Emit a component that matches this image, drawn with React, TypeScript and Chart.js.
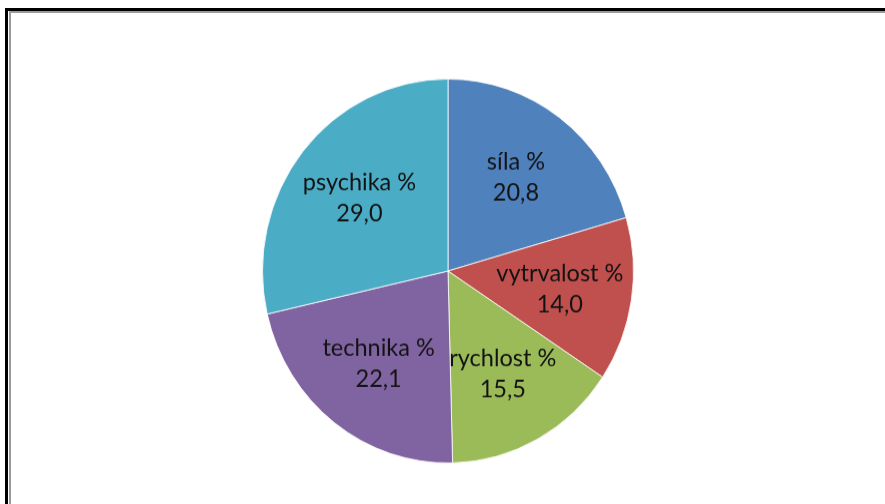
import React, { useEffect, useRef } from "react";
import { Chart, ArcElement, PieController } from "chart.js";

Chart.register(ArcElement, PieController);

const categories = ["síla %", "vytrvalost %", "rychlost %", "technika %", "psychika %"];
const values = [20.8, 14.0, 15.5, 22.1, 29.0];
const colors = ["#4F81BD", "#C0504D", "#9BBB59", "#8064A2", "#4BACC6"];

const labelPlugin = {
  id: "sliceLabels",
  afterDatasetsDraw(chart: any) {
    const meta = chart.getDatasetMeta(0);
    const ctx = chart.ctx;
    ctx.save();
    ctx.font = "23.5px Lato";
    ctx.fillStyle = "#121212";
    ctx.textAlign = "center";
    ctx.textBaseline = "middle";
    meta.data.forEach((arc: any, i: number) => {
      const p = arc.getProps(["x", "y", "startAngle", "endAngle", "outerRadius"], true);
      const mid = (p.startAngle + p.endAngle) / 2;
      const d = p.outerRadius * 0.61;
      const cx = p.x + Math.cos(mid) * d;
      const cy = p.y + Math.sin(mid) * d;
      const valueText = values[i].toFixed(1).replace(".", ",");
      ctx.fillText(categories[i], cx, cy - 15);
      ctx.fillText(valueText, cx, cy + 15);
    });
    ctx.restore();
  },
};

export default function App() {
  const ref = useRef<HTMLCanvasElement | null>(null);
  useEffect(() => {
    if (!ref.current) return;
    const chart = new Chart(ref.current, {
      type: "pie",
      data: {
        labels: categories,
        datasets: [
          {
            data: values,
            backgroundColor: colors,
            borderColor: "rgba(255,255,255,0.8)",
            borderWidth: 1,
          },
        ],
      },
      options: {
        responsive: false,
        animation: false,
        layout: { padding: { top: 85, bottom: 47, left: 262, right: 251 } },
        plugins: { legend: { display: false }, tooltip: { enabled: false } },
      },
      plugins: [labelPlugin],
    });
    return () => chart.destroy();
  }, []);
  return (
    <div style={{ position: "fixed", left: 0, top: 0, width: 885, height: 504, background: "#fff", overflow: "hidden" }}>
      <canvas
        ref={ref}
        width={885}
        height={504}
        style={{ position: "absolute", left: 0, top: 0, transform: "scaleY(1.035)", transformOrigin: "50% 271px" }}
      />
      <div style={{ position: "absolute", left: 5, top: 8, width: 3, height: 600, background: "#000" }} />
      <div style={{ position: "absolute", left: 5, top: 8, width: 1000, height: 3, background: "#000" }} />
      <div style={{ position: "absolute", left: 9, top: 11, width: 2, height: 600, background: "#9a9a9a" }} />
      <div style={{ position: "absolute", left: 9, top: 11, width: 1000, height: 2, background: "#9a9a9a" }} />
    </div>
  );
}
